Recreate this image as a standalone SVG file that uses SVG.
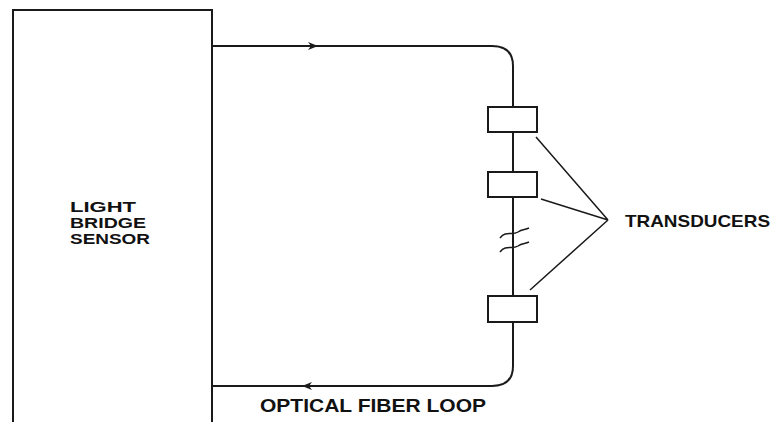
<svg xmlns="http://www.w3.org/2000/svg" width="774" height="422" viewBox="0 0 774 422">
<style>
.ln{fill:none;stroke:#1a1a1a;stroke-width:2}
.thin{fill:none;stroke:#1a1a1a;stroke-width:1.5}
.box{fill:#fff;stroke:#1a1a1a;stroke-width:2}
text{font-family:"Liberation Sans",Arial,sans-serif;fill:#111;font-weight:bold}
</style>
<defs>
<marker id="arr" viewBox="0 0 10 10" refX="5" refY="5" markerWidth="10" markerHeight="10" markerUnits="userSpaceOnUse" orient="auto">
<path d="M0,1 L10,5 L0,9 L3,5 Z" fill="#1a1a1a"/>
</marker>
</defs>
<rect width="774" height="422" fill="#fff"/>
<g id="sensor">
<path class="ln" d="M13,422 V10 H212 V422"/>
<text font-size="15" x="70" y="212" textLength="66" lengthAdjust="spacingAndGlyphs">LIGHT</text>
<text font-size="15" x="70" y="228" textLength="76" lengthAdjust="spacingAndGlyphs">BRIDGE</text>
<text font-size="15" x="70" y="244" textLength="80" lengthAdjust="spacingAndGlyphs">SENSOR</text>
</g>
<g id="connectors">
<path class="ln" d="M212,46 H313 M313,46 H492 Q513,46 513,66 V107 M513,132 V172 M513,197 V296 M513,322 V366 Q513,386 492,386 H212"/>
<path class="thin" d="M212,46 H313" marker-end="url(#arr)"/>
<path class="thin" d="M386,386 H307" marker-end="url(#arr)"/>
<path class="thin" d="M500,238 C506,230 512,236 518,232 C522,229 525,230 529,228"/>
<path class="thin" d="M500,252 C506,244 512,250 518,246 C522,243 525,244 529,242"/>
<path class="thin" d="M536,137 L608,220 M541,199 L608,220 M530,290 L608,220"/>
</g>
<g id="transducer1"><rect class="box" x="488" y="107" width="49" height="25"/></g>
<g id="transducer2"><rect class="box" x="488" y="172" width="49" height="25"/></g>
<g id="transducer3"><rect class="box" x="488" y="296" width="49" height="26"/></g>
<g id="labels">
<text font-size="17" x="625" y="227" textLength="145" lengthAdjust="spacingAndGlyphs">TRANSDUCERS</text>
<text font-size="18" x="260" y="412" textLength="226" lengthAdjust="spacingAndGlyphs">OPTICAL FIBER LOOP</text>
</g>
</svg>
